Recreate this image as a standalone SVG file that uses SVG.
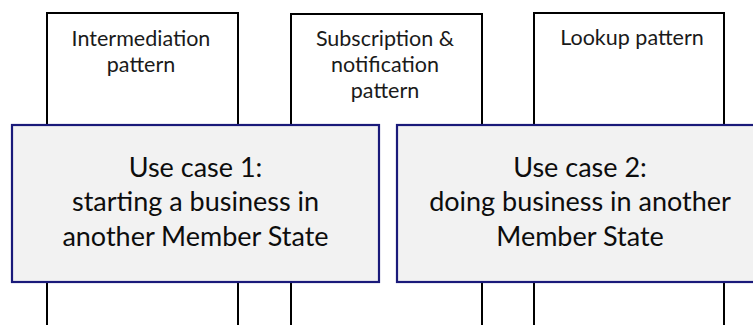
<svg xmlns="http://www.w3.org/2000/svg" width="753" height="325" viewBox="0 0 753 325">
  <style>
    .pat { fill: #ffffff; stroke: #000000; stroke-width: 2; }
    .uc { fill: #f2f2f2; stroke: #1a1a7a; stroke-width: 2.2; }
    .pt { font-family: Lato, "Open Sans", "Liberation Sans", sans-serif; font-size: 21.5px; fill: #1a1a1a; text-anchor: middle; }
    .ut { font-family: Lato, "Open Sans", "Liberation Sans", sans-serif; font-size: 27px; fill: #0d0d0d; text-anchor: middle; }
  </style>
  <rect width="753" height="325" fill="#ffffff"/>
  <g id="intermediation-pattern">
    <rect class="pat" x="47" y="13" width="191" height="320"/>
    <text class="pt" x="141" y="46">Intermediation</text>
    <text class="pt" x="141" y="72">pattern</text>
  </g>
  <g id="subscription-pattern">
    <rect class="pat" x="291" y="14" width="191" height="320"/>
    <text class="pt" x="385" y="46">Subscription &amp;</text>
    <text class="pt" x="385" y="72">notification</text>
    <text class="pt" x="385" y="98">pattern</text>
  </g>
  <g id="lookup-pattern">
    <rect class="pat" x="534" y="13" width="190" height="320"/>
    <text class="pt" x="632" y="45">Lookup pattern</text>
  </g>
  <g id="connectors"></g>
  <g id="use-case-1">
    <rect class="uc" x="12" y="125" width="367" height="157"/>
    <text class="ut" x="195.5" y="177">Use case 1:</text>
    <text class="ut" x="195.5" y="211">starting a business in</text>
    <text class="ut" x="195.5" y="246">another Member State</text>
  </g>
  <g id="use-case-2">
    <rect class="uc" x="397" y="125" width="370" height="157"/>
    <text class="ut" x="580" y="177">Use case 2:</text>
    <text class="ut" x="580" y="211">doing business in another</text>
    <text class="ut" x="580" y="246">Member State</text>
  </g>
</svg>
